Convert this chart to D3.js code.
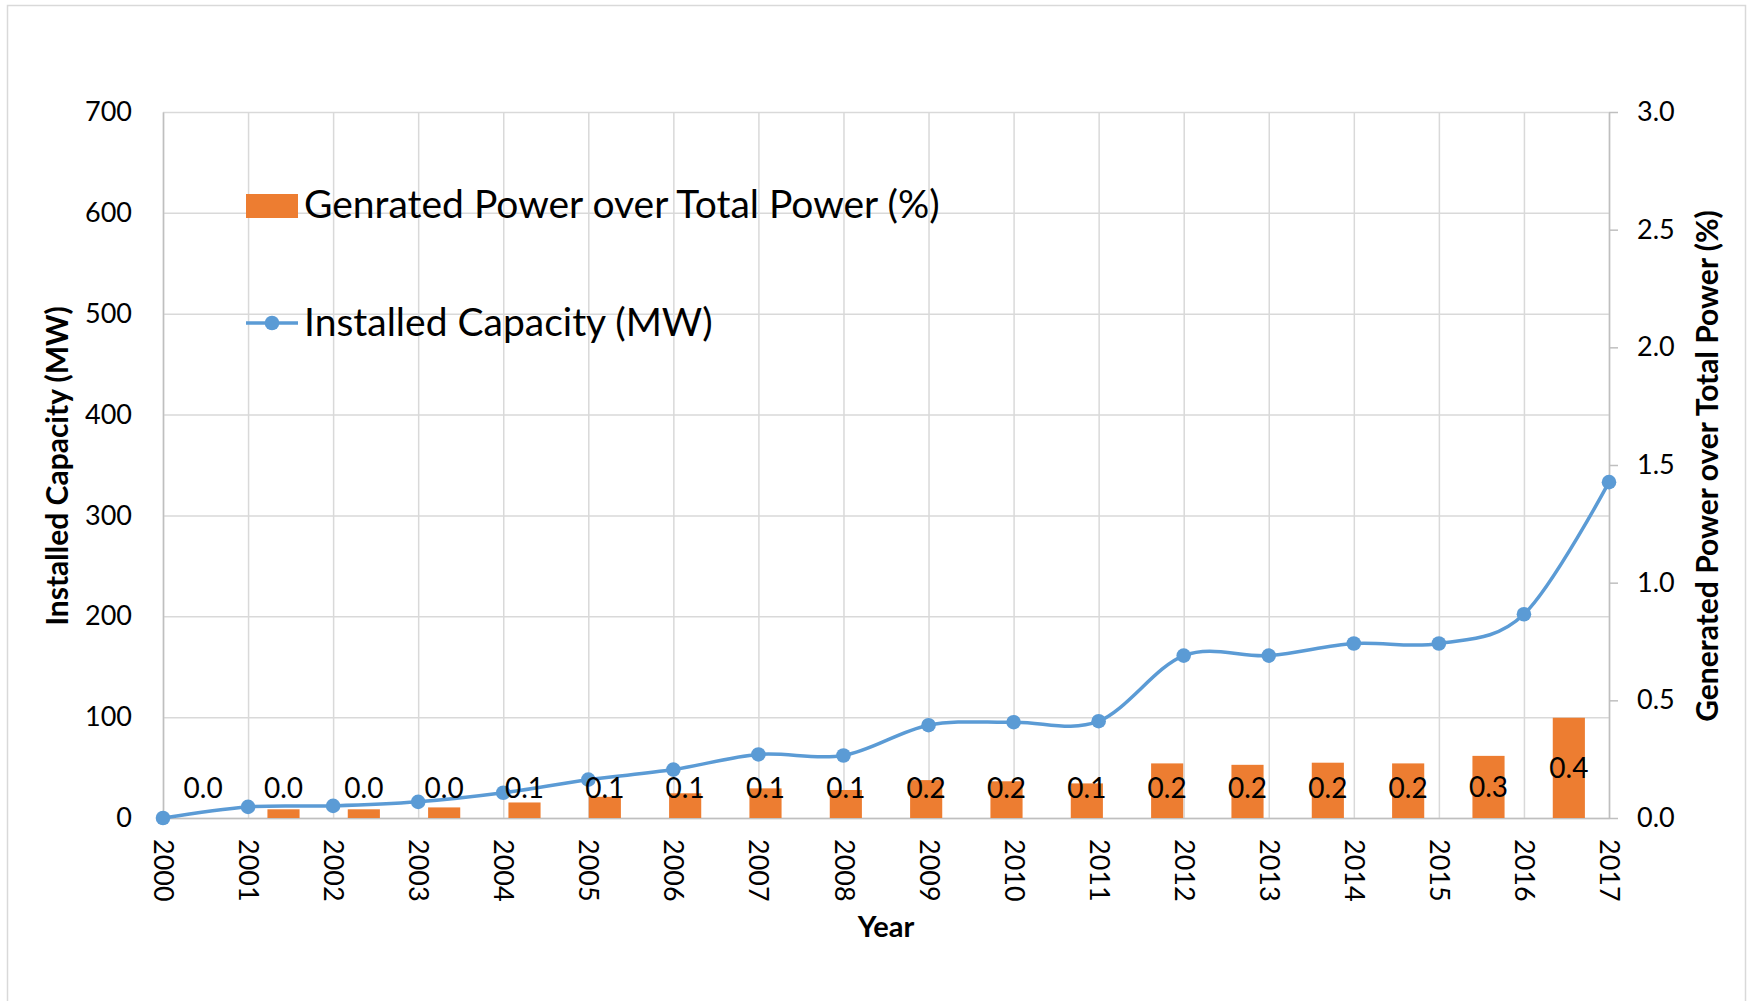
<!DOCTYPE html>
<html lang="en">
<head>
    <meta charset="UTF-8"/>
    <title>Installed Capacity and Generated Power</title>
    <script src="https://d3js.org/d3.v7.min.js"></script>
    <style>
        body { margin: 0; background: #fff; }
        text { font-family: Lato, "Open Sans", sans-serif; fill: #000; }
    </style>
</head>
<body>
    <div id="chart"></div>

    <script>
        // data
        var years = ["2000", "2001", "2002", "2003", "2004", "2005", "2006", "2007", "2008",
                     "2009", "2010", "2011", "2012", "2013", "2014", "2015", "2016", "2017"];
        var capacity = [0, 11, 12, 16, 25, 38, 48, 63, 62, 92, 95, 96, 161, 161, 173, 173, 202, 333];
        var share = [0.0, 0.037, 0.037, 0.045, 0.066, 0.09, 0.105, 0.126, 0.119, 0.161, 0.156,
                     0.147, 0.232, 0.226, 0.235, 0.232, 0.264, 0.426];
        var leftTicks = [0, 100, 200, 300, 400, 500, 600, 700];
        var rightTicks = [0, 0.5, 1.0, 1.5, 2.0, 2.5, 3.0];

        var w = 1750;
        var h = 1001;
        // plot box (note: "top" is a reserved window property, so use px* names)
        var pxL = 163, pxR = 1609, pxT = 112, pxB = 818;

        var svg = d3.select("#chart")
                    .append("svg")
                    .attr("width", w)
                    .attr("height", h);

        // outer chart border
        svg.append("rect")
            .attr("x", 7.5).attr("y", 5.5)
            .attr("width", 1738).attr("height", 1010)
            .attr("fill", "none")
            .attr("stroke", "#d9d9d9")
            .attr("stroke-width", 1.5);

        var x = d3.scalePoint().domain(years).range([pxL, pxR]);
        var xBand = d3.scaleBand().domain(years).range([pxL, pxR])
                        .paddingInner(0.6).paddingOuter(0.3);
        var yL = d3.scaleLinear().domain([0, 700]).range([pxB, pxT]);
        var yR = d3.scaleLinear().domain([0, 3]).range([pxB, pxT]);

        // grid
        var gridY = svg.append("g")
            .attr("transform", "translate(" + pxL + ",0)")
            .call(d3.axisLeft(yL).tickValues(leftTicks).tickSize(-(pxR - pxL)).tickFormat(""));
        var gridX = svg.append("g")
            .attr("transform", "translate(0," + pxB + ")")
            .call(d3.axisBottom(x).tickSize(-(pxB - pxT)).tickFormat(""));
        [gridY, gridX].forEach(function(g) {
            g.select(".domain").remove();
            g.selectAll("line").attr("stroke", "#d9d9d9").attr("stroke-width", 1.5);
        });

        // left axis
        var axL = svg.append("g")
            .attr("transform", "translate(" + pxL + ",0)")
            .call(d3.axisLeft(yL).tickValues(leftTicks).tickSize(0).tickSizeOuter(0).tickPadding(31));
        axL.select(".domain").attr("stroke", "#bfbfbf").attr("stroke-width", 1.5);
        axL.selectAll("text").attr("font-size", 27).attr("font-family", null);

        // right axis
        var axR = svg.append("g")
            .attr("transform", "translate(" + pxR + ",0)")
            .call(d3.axisRight(yR).tickValues(rightTicks).tickFormat(d3.format(".1f"))
                    .tickSize(9).tickSizeOuter(0).tickPadding(19));
        axR.select(".domain").attr("stroke", "#bfbfbf").attr("stroke-width", 1.5);
        axR.selectAll("line").attr("stroke", "#bfbfbf").attr("stroke-width", 1.5);
        axR.selectAll("text").attr("font-size", 27).attr("font-family", null);

        // bottom axis
        var axB = svg.append("g")
            .attr("transform", "translate(0," + pxB + ")")
            .call(d3.axisBottom(x).tickSize(0).tickSizeOuter(0));
        axB.select(".domain").attr("stroke", "#bfbfbf").attr("stroke-width", 1.5);
        axB.selectAll("text")
            .attr("font-size", 27).attr("font-family", null)
            .attr("transform", "rotate(90)")
            .attr("x", 21).attr("y", 0).attr("dy", "0.35em")
            .attr("text-anchor", "start");

        // bars (secondary axis)
        svg.selectAll("rect.bar")
            .data(share)
            .enter()
            .append("rect")
            .attr("class", "bar")
            .attr("x", function(d, i) { return xBand(years[i]); })
            .attr("y", function(d) { return yR(d); })
            .attr("width", xBand.bandwidth())
            .attr("height", function(d) { return pxB - yR(d); })
            .attr("fill", "#ed7d31");

        // line (primary axis)
        var line = d3.line()
            .x(function(d, i) { return x(years[i]); })
            .y(function(d) { return yL(d); })
            .curve(d3.curveCardinal.tension(0));

        svg.append("path")
            .datum(capacity)
            .attr("d", line)
            .attr("fill", "none")
            .attr("stroke", "#5b9bd5")
            .attr("stroke-width", 3.5);

        svg.selectAll("circle.pt")
            .data(capacity)
            .enter()
            .append("circle")
            .attr("class", "pt")
            .attr("cx", function(d, i) { return x(years[i]); })
            .attr("cy", function(d) { return yL(d); })
            .attr("r", 7.3)
            .attr("fill", "#5b9bd5");

        // bar data labels, centred on the bar, kept above the axis
        svg.selectAll("text.lbl")
            .data(share)
            .enter()
            .append("text")
            .attr("class", "lbl")
            .attr("x", function(d, i) { return xBand(years[i]) + xBand.bandwidth() / 2; })
            .attr("y", function(d) { return Math.min((yR(d) + pxB) / 2, 788); })
            .attr("dy", "0.36em")
            .attr("text-anchor", "middle")
            .attr("font-size", 28)
            .text(function(d) { return d3.format(".1f")(d); });

        // axis titles
        svg.append("text")
            .attr("transform", "translate(68,466) rotate(-90)")
            .attr("text-anchor", "middle")
            .attr("font-size", 30)
            .attr("font-weight", "bold")
            .text("Installed Capacity (MW)");

        svg.append("text")
            .attr("transform", "translate(1718,466) rotate(-90)")
            .attr("text-anchor", "middle")
            .attr("font-size", 30)
            .attr("font-weight", "bold")
            .text("Generated Power over Total Power (%)");

        svg.append("text")
            .attr("x", (pxL + pxR) / 2)
            .attr("y", 937)
            .attr("text-anchor", "middle")
            .attr("font-size", 29)
            .attr("font-weight", "bold")
            .text("Year");

        // legend
        var legend = svg.append("g");
        legend.append("rect")
            .attr("x", 246).attr("y", 194)
            .attr("width", 52).attr("height", 24)
            .attr("fill", "#ed7d31");
        legend.append("text")
            .attr("x", 304).attr("y", 218)
            .attr("font-size", 39)
            .text("Genrated Power over Total Power (%)");

        legend.append("line")
            .attr("x1", 246).attr("x2", 298)
            .attr("y1", 323).attr("y2", 323)
            .attr("stroke", "#5b9bd5").attr("stroke-width", 3.5);
        legend.append("circle")
            .attr("cx", 272).attr("cy", 323).attr("r", 7.3)
            .attr("fill", "#5b9bd5");
        legend.append("text")
            .attr("x", 304).attr("y", 336)
            .attr("font-size", 39)
            .text("Installed Capacity (MW)");
    </script>
</body>
</html>
